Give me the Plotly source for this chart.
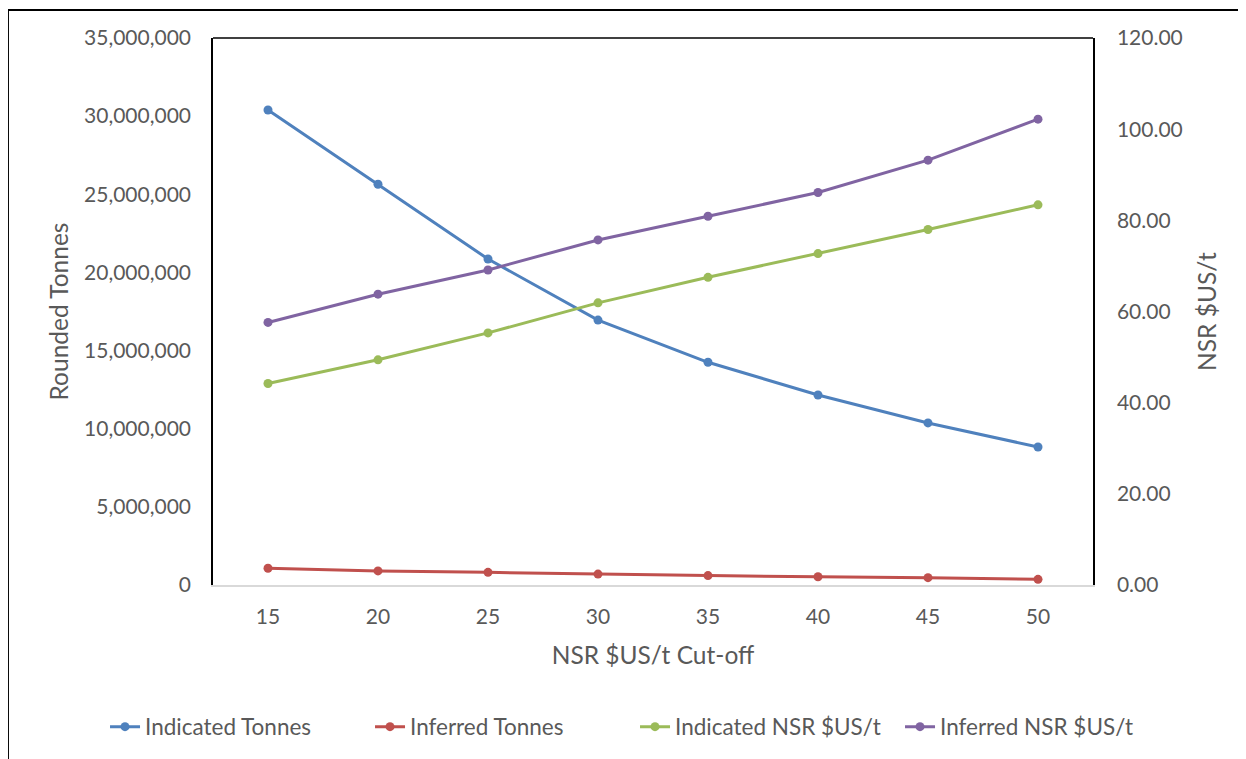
import plotly.graph_objects as go

cutoff = [15, 20, 25, 30, 35, 40, 45, 50]
indicated_tonnes = [30390000, 25640000, 20860000, 16950000, 14250000, 12160000, 10370000, 8830000]
inferred_tonnes = [1070000, 900000, 810000, 700000, 600000, 530000, 470000, 360000]
indicated_nsr = [44.2, 49.4, 55.3, 61.9, 67.5, 72.7, 78.0, 83.4]
inferred_nsr = [57.6, 63.8, 69.1, 75.7, 80.9, 86.1, 93.2, 102.2]

FONT = "Lato"
GREY = "#595959"
TICK = 21
TITLE = 24.5

fig = go.Figure()

def add(name, y, color, axis):
    fig.add_trace(go.Scatter(
        x=cutoff, y=y, name=name, mode="lines+markers", yaxis=axis,
        line=dict(color=color, width=3),
        marker=dict(color=color, size=9),
    ))

add("Indicated Tonnes", indicated_tonnes, "#4F81BD", "y")
add("Inferred Tonnes", inferred_tonnes, "#C0504D", "y")
add("Indicated NSR $US/t", indicated_nsr, "#9BBB59", "y2")
add("Inferred NSR $US/t", inferred_nsr, "#8064A2", "y2")

fig.update_layout(
    width=1246, height=759,
    margin=dict(l=205, r=161, t=30, b=182),
    paper_bgcolor="white", plot_bgcolor="white",
    font=dict(family=FONT, size=TICK, color=GREY),
    showlegend=True,
    legend=dict(orientation="h", xref="paper", yref="paper",
                x=-0.1227, xanchor="left", y=-0.2596, yanchor="middle",
                font=dict(family=FONT, size=22.5, color=GREY),
                entrywidth=220, entrywidthmode="pixels", traceorder="normal"),
    xaxis=dict(range=[12.5, 52.5], tickvals=cutoff, ticktext=[str(c) for c in cutoff],
               showgrid=False, zeroline=False, showline=True, linecolor="#D9D9D9", linewidth=2,
               ticks="", ticklabelstandoff=12,
               title=dict(text="NSR $US/t Cut-off", font=dict(family=FONT, size=TITLE, color=GREY), standoff=20)),
    yaxis=dict(range=[0, 35000000], dtick=5000000, tickformat=",", showgrid=False, zeroline=False,
               showline=True, linecolor="black", linewidth=1.5, ticks="", ticklabelstandoff=16,
               title=dict(text="Rounded Tonnes", font=dict(family=FONT, size=TITLE, color=GREY), standoff=8)),
    yaxis2=dict(range=[0, 120], dtick=20, tickformat=".2f", overlaying="y", side="right",
                showgrid=False, zeroline=False, showline=True, linecolor="black", linewidth=1.5,
                ticks="", ticklabelstandoff=18,
                title=dict(text="NSR $US/t", font=dict(family=FONT, size=TITLE, color=GREY), standoff=17)),
)

# top border of plot area
fig.add_shape(type="line", xref="paper", yref="paper", x0=0, x1=1, y0=1, y1=1,
              line=dict(color="black", width=1.5))
# outer chart border (cropped at right and bottom)
fig.add_shape(type="rect", xref="paper", yref="paper", x0=-0.233, x1=1.25, y0=-0.4, y1=1.0512,
              line=dict(color="black", width=2), layer="below")

fig.write_html("out.html")
